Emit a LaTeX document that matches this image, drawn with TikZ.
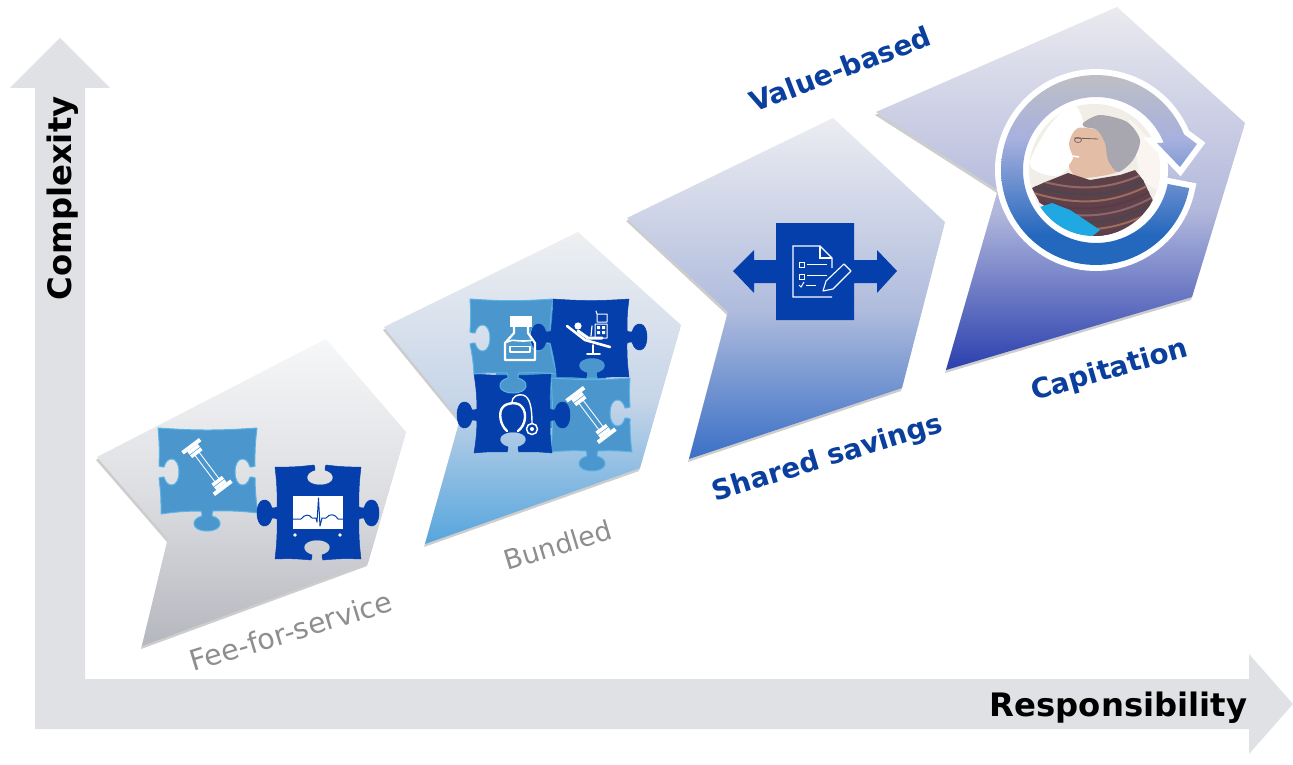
\documentclass[tikz,border=0pt]{standalone}
\usepackage{fontspec}
\setmainfont{DejaVu Sans}
\usetikzlibrary{calc}
\definecolor{axisg}{HTML}{E0E1E4}
\definecolor{lightp}{HTML}{4A96CD}
\definecolor{rimp}{HTML}{5AB4E4}
\definecolor{darkp}{HTML}{053FAC}
\definecolor{labblue}{HTML}{0A3F9E}
\definecolor{labgray}{HTML}{8E8E8E}
\definecolor{aT}{HTML}{F6F7F8}\definecolor{aM}{HTML}{DDDEE2}\definecolor{aB}{HTML}{B5B7BE}
\definecolor{bT}{HTML}{EEEFF2}\definecolor{bM}{HTML}{C6D5E8}\definecolor{bB}{HTML}{55A5DD}
\definecolor{cT}{HTML}{ECEDF2}\definecolor{cM}{HTML}{B0BCDD}\definecolor{cB}{HTML}{3A6FC6}
\definecolor{dT}{HTML}{EAEAEF}\definecolor{dM}{HTML}{B2B8DC}\definecolor{dB}{HTML}{2A3FAE}
\definecolor{rT}{HTML}{BEBFC4}\definecolor{rM}{HTML}{A7B0DE}\definecolor{rB}{HTML}{2468BE}
\definecolor{phbg}{HTML}{F1EEE8}\definecolor{phsheet}{HTML}{FAF5F0}\definecolor{phskin}{HTML}{E3BDA6}
\definecolor{phhair}{HTML}{A8A7AF}\definecolor{phglass}{HTML}{6E5E58}\definecolor{phwool}{HTML}{5E4048}
\definecolor{phcyan}{HTML}{1FA8E2}
\definecolor{sa}{HTML}{8F6A68}\definecolor{sb}{HTML}{4A4552}\definecolor{sc}{HTML}{9A6E60}
\definecolor{sd}{HTML}{5A3A48}\definecolor{se}{HTML}{8A6670}
\pgfdeclareverticalshading{shA}{100bp}{color(0bp)=(aB);color(25bp)=(aB);color(50bp)=(aM);color(75bp)=(aT);color(100bp)=(aT)}
\pgfdeclareverticalshading{shB}{100bp}{color(0bp)=(bB);color(25bp)=(bB);color(48bp)=(bM);color(75bp)=(bT);color(100bp)=(bT)}
\pgfdeclareverticalshading{shC}{100bp}{color(0bp)=(cB);color(25bp)=(cB);color(47bp)=(cM);color(75bp)=(cT);color(100bp)=(cT)}
\pgfdeclareverticalshading{shD}{100bp}{color(0bp)=(dB);color(25bp)=(dB);color(47bp)=(dM);color(75bp)=(dT);color(100bp)=(dT)}
\pgfdeclareverticalshading{shR}{100bp}{color(0bp)=(rB);color(25bp)=(rB);color(33bp)=(rB);color(58bp)=(rM);color(75bp)=(rT);color(100bp)=(rT)}
\def\ptsA{(97,457) -- (326,339) -- (406,432) -- (368,563) -- (142,646) -- (168,539) -- cycle}
\def\ptsB{(384,327) -- (578,232) -- (681,325) -- (640,468) -- (425,544) -- (460,420) -- cycle}
\def\ptsC{(627,218) -- (833,118) -- (945,222) -- (902,388) -- (689,459) -- (728,312) -- cycle}
\def\ptsD{(876,112) -- (1117,7) -- (1245,123) -- (1192,297) -- (946,370) -- (998,190) -- cycle}
% knob on a vertical edge: x, centre y, travel direction, bulge direction
\newcommand\kv[4]{to[pzb] ({#1},{#2-6*#3}) .. controls ({#1+2*#4},{#2-6*#3}) and ({#1+3*#4},{#2-4*#3}) .. ({#1+5*#4},{#2-5*#3}) .. controls ({#1+8*#4},{#2-17*#3}) and ({#1+20*#4},{#2-16*#3}) .. ({#1+20*#4},{#2}) .. controls ({#1+20*#4},{#2+16*#3}) and ({#1+8*#4},{#2+17*#3}) .. ({#1+5*#4},{#2+5*#3}) .. controls ({#1+3*#4},{#2+4*#3}) and ({#1+2*#4},{#2+6*#3}) .. ({#1},{#2+6*#3})}
% knob on a horizontal edge: centre x, y, travel direction, bulge direction
\newcommand\kh[4]{to[pzb] ({#1-6*#3},{#2}) .. controls ({#1-6*#3},{#2+2*#4}) and ({#1-4*#3},{#2+3*#4}) .. ({#1-5*#3},{#2+5*#4}) .. controls ({#1-17*#3},{#2+8*#4}) and ({#1-16*#3},{#2+20*#4}) .. ({#1},{#2+20*#4}) .. controls ({#1+16*#3},{#2+20*#4}) and ({#1+17*#3},{#2+8*#4}) .. ({#1+5*#3},{#2+5*#4}) .. controls ({#1+4*#3},{#2+3*#4}) and ({#1+6*#3},{#2+2*#4}) .. ({#1+6*#3},{#2})}
\tikzset{
  x=1pt,y=-1pt,
  pzb/.style={bend right=4},
  lightpiece/.style={fill=lightp,draw=rimp,line width=1pt,line join=round},
  darkpiece/.style={fill=darkp,draw=darkp,line width=.5pt,line join=round},
  ico/.style={draw=white,line width=1.3pt,line cap=round,line join=round},
  axislabel/.style={font=\bfseries\fontsize{32.3}{38}\selectfont,text=black,inner sep=0pt},
  bluelabel/.style={font=\bfseries\fontsize{27.7}{32}\selectfont,text=labblue,inner sep=0pt},
  graylabel/.style={font=\fontsize{28.5}{33}\selectfont,text=labgray,inner sep=0pt},
  softshadow/.style={black,opacity=.05,fill,line join=round},
  tube/.pic={
    \draw[white,line width=.9pt] (-20,-2.6) -- (20,-2.6) (-20,2.6) -- (20,2.6);
    \fill[white] (-24,-6.5) rectangle (-16,6.5) (16,-6.5) rectangle (24,6.5);
    \fill[white] (-28,-11) rectangle (-24,11) (24,-11) rectangle (28,11);
    \draw[lightp,line width=.5pt] (-20,-6.5) -- (-20,6.5) (20,-6.5) -- (20,6.5);
  }
}
\newcommand\softdrop[1]{%
  \foreach \w in {0.5,2.5,4.5,6.5}{\path[softshadow,line width=\w pt,shift={(-1,3)}] #1;}}
\begin{document}
\begin{tikzpicture}
\useasboundingbox (0,0) rectangle (1293,765);
\fill[white] (0,0) rectangle (1293,765);
% axes
\fill[axisg] (35,729) -- (35,88) -- (10,88) -- (60,38) -- (110,88) -- (85,88) -- (85,679) -- (1249,679) -- (1249,654) -- (1293,704) -- (1249,754) -- (1249,729) -- cycle;
\node[axislabel,rotate=90] (complexity) at (62.5,198.5) {Complexity};
\node[axislabel] (responsibility) at (1118.5,707.5) {Responsibility};
% chevrons
\softdrop{\ptsA}\shade[shading=shA] \ptsA;
\softdrop{\ptsB}\shade[shading=shB] \ptsB;
\softdrop{\ptsC}\shade[shading=shC] \ptsC;
\softdrop{\ptsD}\shade[shading=shD] \ptsD;
% fee-for-service pieces
\path[lightpiece] (158,428) to[pzb] (257,428) \kv{255}{472}{1}{-1} to[pzb] (258,513) \kh{207}{511}{-1}{1} to[pzb] (161,514) \kv{159}{472}{-1}{1} to[pzb] (158,428) -- cycle;
\pic[rotate=-53] at (207,467) {tube};
\path[darkpiece] (275,467) \kh{320}{465}{1}{1} to[pzb] (361,467) \kv{359}{513}{1}{1} to[pzb] (361,559) \kh{317}{560}{-1}{-1} to[pzb] (275,559) \kv{277}{513}{-1}{-1} to[pzb] (275,467) -- cycle;
\fill[white] (293,496) rectangle (343,529);
\draw[darkp,line width=1pt,line join=round] (293,519) -- (301,519) .. controls (305,514) and (309,514) .. (312,518) -- (316,518) -- (317,522) -- (318.5,498) -- (320,526) -- (322,518) -- (326,518) .. controls (330,513) and (335,514) .. (338,519) -- (343,519);
\fill[white] (295,535) circle (1.8) (340,535) circle (1.8);
% bundled pieces
\fill[lightp] (496,310) rectangle (606,428);
\path[lightpiece] (551,378) to[pzb] (630,378) \kv{630}{413}{1}{-1} to[pzb] (632,452) \kh{592}{451}{-1}{1} to[pzb] (551,452) to[pzb] (551,378) -- cycle;
\path[lightpiece] (578,378) \kh{592}{378}{1}{-1} to (606,378) -- cycle;
\pic[rotate=-53] at (591,415) {tube};
\path[darkpiece] (474,374) to[pzb] (551,374) \kv{550}{415}{1}{1} to[pzb] (552,453) \kh{513}{452}{-1}{-1} to[pzb] (474,453) \kv{477}{415}{-1}{-1} to[pzb] (474,374) -- cycle;
\path[lightpiece] (470,299) to[pzb] (553,299) \kv{550}{338}{1}{-1} to[pzb] (557,374) \kh{513}{373}{-1}{1} to[pzb] (474,374) \kv{470}{338}{-1}{1} to[pzb] (470,299) -- cycle;
\path[darkpiece] (553,299) to[pzb] (629,299) \kv{627}{337}{1}{1} to[pzb] (629,377) \kh{592}{378}{-1}{-1} to[pzb] (557,377) \kv{551}{337}{-1}{-1} to[pzb] (553,299) -- cycle;
% bottle
\fill[white] (510,316) rectangle (532,327);
\draw[ico,line width=2.2pt] (514,327) -- (514,333) -- (505,343) -- (505,360) -- (535,360) -- (535,343) -- (528,333) -- (528,327);
\draw[ico,line width=1.6pt] (507,342) .. controls (513,338) and (518,343) .. (533,340);
\draw[ico,line width=1.1pt] (510,346.5) rectangle (530,352);
% dental chair
\draw[ico,line width=2.6pt] (567,326) -- (585,340) -- (610,347);
\fill[white] (578,326) circle (3.6);
\draw[ico,line width=3pt] (578,331) -- (588,338) -- (602,338);
\draw[ico,line width=1.6pt] (593,345) -- (593,353) (587,354) -- (600,354);
\draw[ico,line width=1pt] (597,314) rectangle (607,322) (595,324) rectangle (607,338) (596,311) -- (597,314);
\draw[ico,line width=1.2pt] (592,326) -- (591,336);
\fill[white] (597,326) rectangle (600,329) (602,326) rectangle (605,329) (597,331) rectangle (600,334) (602,331) rectangle (605,334);
% stethoscope
\draw[ico,line width=2.4pt] (507,431) .. controls (500,425) and (498,412) .. (503,407) .. controls (506,403) and (518,401) .. (522,407) .. controls (527,413) and (526,425) .. (518,431);
\draw[ico,line width=1.4pt] (512,403) .. controls (512,396) and (518,394) .. (523,395) .. controls (530,397) and (532,408) .. (532,423);
\draw[ico,line width=1.5pt] (532,429) circle (5.5);
\fill[white] (532,429) circle (2);
% shared savings arrow
\fill[darkp] (733,271) -- (754,250) -- (754,260) -- (776,260) -- (776,223) -- (854,223) -- (854,260) -- (877,260) -- (877,250) -- (897,271) -- (877,293) -- (877,283) -- (854,283) -- (854,320) -- (776,320) -- (776,283) -- (754,283) -- (754,293) -- cycle;
\draw[ico,line width=1.2pt,line cap=butt,line join=miter] (832,297) -- (793,297) -- (793,246) -- (820,246) -- (832,258) -- (832,268);
\draw[ico,line width=1.2pt,line cap=butt,line join=miter] (820,246) -- (820,258) -- (832,258);
\draw[white,line width=1pt] (799,262) rectangle (804,267) (799,274) rectangle (804,279);
\draw[white,line width=1pt] (807,264) -- (827,264) (807,275) -- (827,275) (806,285) -- (816,285);
\draw[white,line width=1pt] (799,285) -- (801,287) -- (804,282);
\draw[white,line width=1.1pt,line join=round] (823,291) -- (826,281) -- (844,264) -- (851,271) -- (833,289) -- cycle;
% capitation: photo
\fill[white] (1095,170) circle (73);
\begin{scope}
\clip (1094,170) circle (66);
\fill[phbg] (1020,100) rectangle (1170,240);
\fill[white] plot[smooth cycle] coordinates {(1030,165) (1050,125) (1075,105) (1085,140) (1060,175)};
\fill[phsheet] plot[smooth cycle] coordinates {(1130,120) (1165,160) (1160,190) (1140,175) (1135,140)};
\fill[phskin] plot[smooth cycle] coordinates {(1078,128) (1069,143) (1073,158) (1069,167) (1080,178) (1117,172) (1113,157) (1103,133)};
\fill[phhair] plot[smooth cycle] coordinates {(1083,123) (1100,115) (1127,122) (1140,140) (1133,160) (1118,172) (1108,160) (1105,143) (1097,130) (1085,127)};
\draw[phglass,line width=.8pt] (1074,138) -- (1098,139);
\draw[phglass,line width=.7pt] (1078,140) ellipse (3.5 and 2.5);
\draw[white,line width=1.5pt] (1072,156) -- (1079,157);
\fill[phwool] (1032,188) -- (1043,183) -- (1068,173) -- (1090,180) -- (1120,175) -- (1135,170) -- (1143,180) -- (1155,205) -- (1147,240) -- (1097,240) -- (1040,203) -- cycle;
\begin{scope}
\clip (1032,188) -- (1043,183) -- (1068,173) -- (1090,180) -- (1120,175) -- (1135,170) -- (1143,180) -- (1155,205) -- (1147,240) -- (1097,240) -- (1040,203) -- cycle;
\foreach \o/\c in {0/sa,7/sb,14/sc,21/sd,28/se,35/sb,42/sc,49/sd,56/se}{
  \draw[\c,line width=2pt] (1030,{178+\o}) .. controls (1070,{190+\o}) and (1110,{195+\o}) .. (1160,{165+\o});}
\end{scope}
\fill[phcyan] (1040,207) -- (1052,203) -- (1070,210) -- (1100,230) -- (1090,238) -- (1063,238) -- (1040,217) -- cycle;
\end{scope}
% capitation: ring arrow
\def\ringpath{plot[domain=11:338,samples=90] ({1096+95*cos(\x)},{170+95*sin(\x)}) -- (1197,144) -- (1180,167) -- (1157,143) -- plot[domain=338:11,samples=90] ({1096+73*cos(\x)},{170+73*sin(\x)}) -- cycle}
\draw[white,line width=12pt,line join=miter] \ringpath;
\shade[shading=shR] \ringpath;
% labels
\node[graylabel,rotate=17] (fee) at (291,631) {Fee-for-service};
\node[graylabel,rotate=17,font=\fontsize{27}{32}\selectfont] (bundled) at (558,545) {Bundled};
\node[bluelabel,rotate=17] (shared) at (828,459) {Shared savings};
\node[bluelabel,rotate=16] (capitation) at (1110,371) {Capitation};
\node[bluelabel,rotate=21] (value) at (840,69) {Value-based};
\end{tikzpicture}
\end{document}
